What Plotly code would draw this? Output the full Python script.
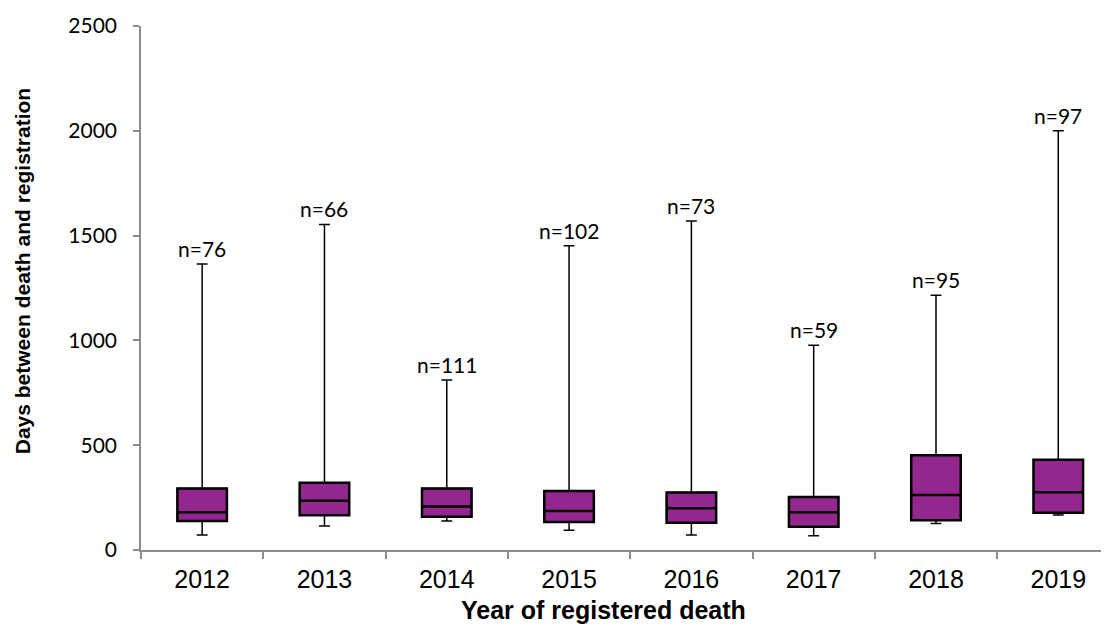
import plotly.graph_objects as go

years = ["2012", "2013", "2014", "2015", "2016", "2017", "2018", "2019"]
lower_whisker = [72, 115, 138, 94, 72, 68, 126, 167]
q1 = [138, 166, 159, 134, 130, 111, 142, 178]
median = [180, 235, 207, 186, 199, 180, 263, 275]
q3 = [294, 321, 293, 282, 274, 253, 452, 430]
upper_whisker = [1364, 1553, 811, 1451, 1570, 977, 1216, 2000]
n_labels = ["n=76", "n=66", "n=111", "n=102", "n=73", "n=59", "n=95", "n=97"]
y_ticks = [0, 500, 1000, 1500, 2000, 2500]

purple = "#93278F"
fig = go.Figure()
# whiskers (thin lines)
fig.add_trace(go.Box(
    x=years, q1=q1, median=median, q3=q3,
    lowerfence=lower_whisker, upperfence=upper_whisker,
    fillcolor=purple, line=dict(color="black", width=1.5),
    width=0.405, whiskerwidth=0.22,
    boxpoints=False, hoverinfo="skip", showlegend=False,
))
# boxes (thicker outline), no whiskers
fig.add_trace(go.Box(
    x=years, q1=q1, median=median, q3=q3,
    lowerfence=q1, upperfence=q3,
    fillcolor=purple, line=dict(color="black", width=2.5),
    width=0.405, whiskerwidth=0,
    boxpoints=False, hoverinfo="skip", showlegend=False,
))

for i, (top, lab) in enumerate(zip(upper_whisker, n_labels)):
    fig.add_annotation(
        x=i, y=top, xref="x", yref="y", text=lab, showarrow=False,
        yanchor="bottom", yshift=1,
        font=dict(family="Lato, Carlito, sans-serif", size=21, color="black"),
    )

title_font = dict(family="Liberation Sans, Arial, sans-serif", color="black")
fig.add_annotation(
    xref="paper", yref="paper", x=0.474, y=-0.1145,
    xanchor="center", yanchor="middle", showarrow=False,
    text="<b>Year of registered death</b>", font=dict(size=25, **title_font),
)
fig.add_annotation(
    xref="paper", yref="paper", x=-0.1219, y=0.532,
    xanchor="center", yanchor="middle", showarrow=False, textangle=-90,
    text="<b>Days between death and registration</b>", font=dict(size=21, **title_font),
)

gray = "#8c8c8c"
fig.update_layout(
    width=1109, height=640,
    margin=dict(l=133, r=0, t=18, b=98),
    plot_bgcolor="white", paper_bgcolor="white",
    boxmode="overlay",
    xaxis=dict(
        type="category",
        categoryorder="array", categoryarray=years,
        range=[-0.5, 7.48],
        automargin=False,
        showline=True, linecolor=gray, linewidth=1.5,
        ticks="outside", tickson="boundaries", ticklen=7, tickcolor=gray, tickwidth=1.5,
        showgrid=False, zeroline=False,
        ticklabelstandoff=6,
        tickfont=dict(family="Liberation Sans, Arial, sans-serif", size=25, color="black"),
    ),
    yaxis=dict(
        range=[0, 2500],
        tickvals=y_ticks,
        automargin=False,
        showline=True, linecolor=gray, linewidth=1.5,
        ticks="outside", ticklen=6, tickcolor=gray, tickwidth=1.5,
        showgrid=False, zeroline=False,
        ticklabelstandoff=12,
        tickfont=dict(family="Lato, Carlito, sans-serif", size=21, color="black"),
    ),
)

fig.write_html("out.html")
